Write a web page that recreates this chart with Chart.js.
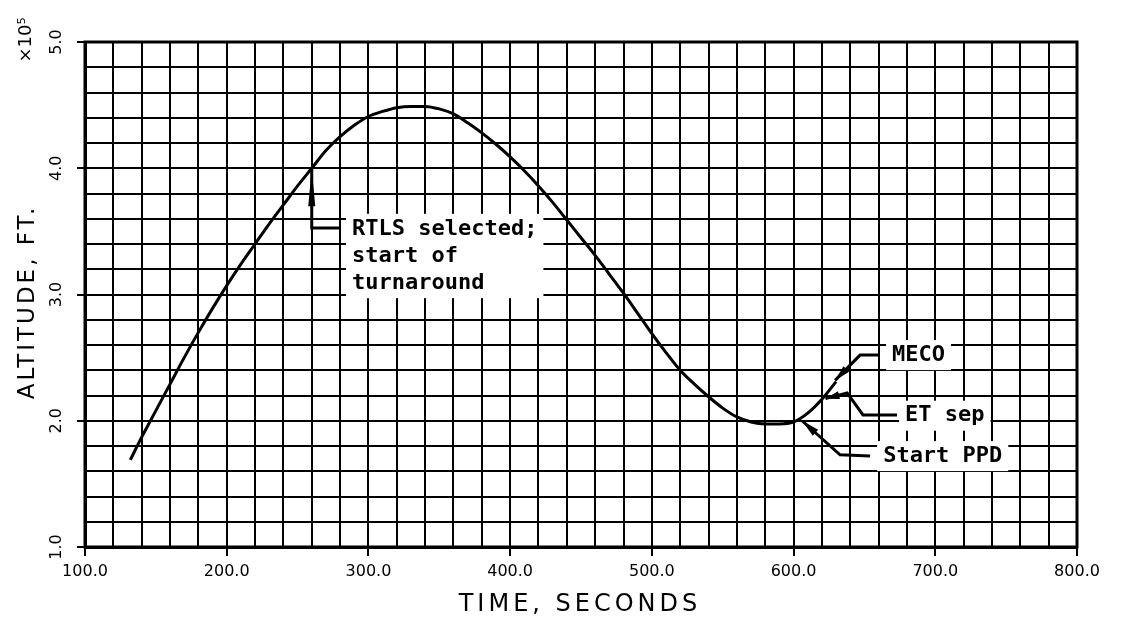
<!DOCTYPE html>
<html>
<head>
<meta charset="utf-8">
<script src="https://cdn.jsdelivr.net/npm/chart.js@4.4.1/dist/chart.umd.min.js"></script>
<style>
  html, body { margin: 0; padding: 0; background: #fff; }
  #wrap { width: 1122px; height: 627px; position: relative; }
</style>
</head>
<body>
<div id="wrap"><canvas id="c" width="1122" height="627"></canvas></div>
<script>
// ---- data (time in s, altitude in 10^5 ft) ----
const timeSec = [132, 140, 150, 160, 170, 180, 190, 200, 210, 220, 230, 240, 250, 260, 270, 280, 290, 300, 310, 320, 330, 340, 350, 360, 370, 380, 390, 400, 410, 420, 430, 440, 450, 460, 470, 480, 490, 500, 510, 520, 530, 540, 550, 560, 570, 580, 590, 600, 610, 620, 630];
const altitude = [1.69, 1.87, 2.08, 2.29, 2.50, 2.70, 2.89, 3.07, 3.24, 3.40, 3.56, 3.71, 3.86, 4.00, 4.14, 4.25, 4.34, 4.41, 4.45, 4.48, 4.49, 4.49, 4.47, 4.43, 4.36, 4.28, 4.19, 4.09, 3.98, 3.86, 3.73, 3.59, 3.45, 3.31, 3.16, 3.01, 2.85, 2.69, 2.54, 2.40, 2.29, 2.19, 2.10, 2.03, 1.99, 1.975, 1.975, 1.99, 2.06, 2.17, 2.31];

const xTickValues = [100, 200, 300, 400, 500, 600, 700, 800];
const xTickLabels = ['100.0', '200.0', '300.0', '400.0', '500.0', '600.0', '700.0', '800.0'];
const yTickValues = [1, 2, 3, 4, 5];
const yTickLabels = ['1.0', '2.0', '3.0', '4.0', '5.0'];

const xTitle = 'TIME, SECONDS';
const yTitle = 'ALTITUDE, FT.';
const yMultiplier = '×10⁵';

// annotations: text lines, text anchor (time, altitude), leader path ending at arrow tip
const annotations = [
  { lines: ['RTLS selected;', 'start of', 'turnaround'], at: [288.4, 3.52], lineStep: 0.215,
    path: [[280, 3.527], [260, 3.527], [260, 4.0]], head: 38, headW: 3.5 },
  { lines: ['MECO'], at: [669.5, 2.52], lineStep: 0,
    path: [[659.6, 2.52], [646.9, 2.52], [629.3, 2.32]], head: 16, headW: 4 },
  { lines: ['ET sep'], at: [678.7, 2.04], lineStep: 0,
    path: [[673.0, 2.046], [649.0, 2.046], [637.8, 2.22], [622.5, 2.175]], head: 14, headW: 4 },
  { lines: ['Start PPD'], at: [663.2, 1.72], lineStep: 0,
    path: [[654.0, 1.72], [632.8, 1.73], [606.0, 2.0]], head: 18, headW: 4 }
];

const points = timeSec.map((t, i) => ({ x: t, y: altitude[i] }));

function isMajor(v) { return Math.abs(v - Math.round(v)) < 1e-6; }

const decorPlugin = {
  id: 'decor',
  afterDraw(chart) {
    const ctx = chart.ctx;
    const xs = chart.scales.x, ys = chart.scales.y;
    const a = chart.chartArea;
    ctx.save();
    // frame
    ctx.strokeStyle = '#000';
    ctx.lineWidth = 3;
    ctx.strokeRect(a.left, a.top, a.right - a.left, a.bottom - a.top);

    // y tick labels (rotated)
    ctx.fillStyle = '#000';
    ctx.font = '16px "DejaVu Sans"';
    ctx.textAlign = 'center';
    ctx.textBaseline = 'middle';
    yTickValues.forEach((v, i) => {
      const py = ys.getPixelForValue(v);
      ctx.save();
      ctx.translate(57, py);
      ctx.rotate(-Math.PI / 2);
      ctx.fillText(yTickLabels[i], 0, 0);
      ctx.restore();
    });
    // multiplier
    ctx.save();
    ctx.translate(26, 40);
    ctx.rotate(-Math.PI / 2);
    ctx.font = '18px "DejaVu Sans"';
    ctx.fillText(yMultiplier, 0, 0);
    ctx.restore();
    // y title
    ctx.save();
    ctx.translate(28, 302);
    ctx.rotate(-Math.PI / 2);
    ctx.font = '23px "DejaVu Sans"';
    ctx.letterSpacing = '3px';
    ctx.fillText(yTitle, 0, 0);
    ctx.restore();
    // x title
    ctx.save();
    ctx.font = '24px "DejaVu Sans"';
    ctx.letterSpacing = '4px';
    ctx.textAlign = 'center';
    ctx.fillText(xTitle, 580, 605);
    ctx.restore();

    // annotations
    ctx.font = 'bold 22px "DejaVu Sans Mono"';
    ctx.textAlign = 'left';
    ctx.textBaseline = 'middle';
    annotations.forEach(an => {
      const tx = xs.getPixelForValue(an.at[0]);
      const ty0 = ys.getPixelForValue(an.at[1]);
      const step = an.lineStep ? (ys.getPixelForValue(an.at[1] - an.lineStep) - ty0) : 0;
      let w = 0;
      an.lines.forEach(l => { w = Math.max(w, ctx.measureText(l).width); });
      const h = (an.lines.length - 1) * step + 26;
      ctx.fillStyle = '#fff';
      ctx.fillRect(tx - 6, ty0 - 15, w + 12, h + 4);
      ctx.fillStyle = '#000';
      an.lines.forEach((l, i) => ctx.fillText(l, tx, ty0 + i * step));
      // leader
      const pts = an.path.map(p => [xs.getPixelForValue(p[0]), ys.getPixelForValue(p[1])]);
      ctx.strokeStyle = '#000';
      ctx.lineWidth = 3;
      ctx.beginPath();
      ctx.moveTo(pts[0][0], pts[0][1]);
      for (let i = 1; i < pts.length; i++) ctx.lineTo(pts[i][0], pts[i][1]);
      ctx.stroke();
      // arrow head
      const tip = pts[pts.length - 1], prev = pts[pts.length - 2];
      let dx = tip[0] - prev[0], dy = tip[1] - prev[1];
      const len = Math.hypot(dx, dy); dx /= len; dy /= len;
      const bx = tip[0] - dx * an.head, by = tip[1] - dy * an.head;
      ctx.beginPath();
      ctx.moveTo(tip[0], tip[1]);
      ctx.lineTo(bx - dy * an.headW, by + dx * an.headW);
      ctx.lineTo(bx + dy * an.headW, by - dx * an.headW);
      ctx.closePath();
      ctx.fill();
    });
    ctx.restore();
  }
};

new Chart(document.getElementById('c'), {
  type: 'scatter',
  data: {
    datasets: [{
      data: points,
      showLine: true,
      borderColor: '#000',
      borderWidth: 3,
      pointRadius: 0,
      cubicInterpolationMode: 'monotone',
      fill: false
    }]
  },
  options: {
    responsive: false,
    animation: false,
    events: [],
    layout: { padding: { top: 42, right: 45, left: 0, bottom: 0 } },
    plugins: { legend: { display: false }, tooltip: { enabled: false } },
    scales: {
      x: {
        type: 'linear', min: 100, max: 800,
        afterFit(s) { s.height = 80; },
        border: { display: true, color: '#000', width: 3 },
        grid: {
          color: '#000', lineWidth: 2, tickLength: 9,
          tickColor: c => (c.tick && Math.abs(c.tick.value % 100) < 1e-6) ? '#000' : 'rgba(0,0,0,0)',
          tickWidth: 2
        },
        ticks: {
          stepSize: 20, color: '#000', maxRotation: 0, minRotation: 0, autoSkip: false,
          font: { family: 'DejaVu Sans', size: 16 }, padding: 6,
          callback: v => { const i = xTickValues.indexOf(Math.round(v)); return (Math.abs(v % 100) < 1e-6 && i >= 0) ? xTickLabels[i] : ''; }
        }
      },
      y: {
        type: 'linear', min: 1, max: 5,
        afterFit(s) { s.width = 85; },
        border: { display: true, color: '#000', width: 3 },
        grid: {
          color: '#000', lineWidth: 2, tickLength: 8,
          tickColor: c => (c.tick && isMajor(c.tick.value)) ? '#000' : 'rgba(0,0,0,0)',
          tickWidth: 2
        },
        ticks: { stepSize: 0.2, display: true, color: 'rgba(0,0,0,0)', font: { size: 1 }, autoSkip: false, callback: () => '' }
      }
    }
  },
  plugins: [decorPlugin]
});
</script>
</body>
</html>
